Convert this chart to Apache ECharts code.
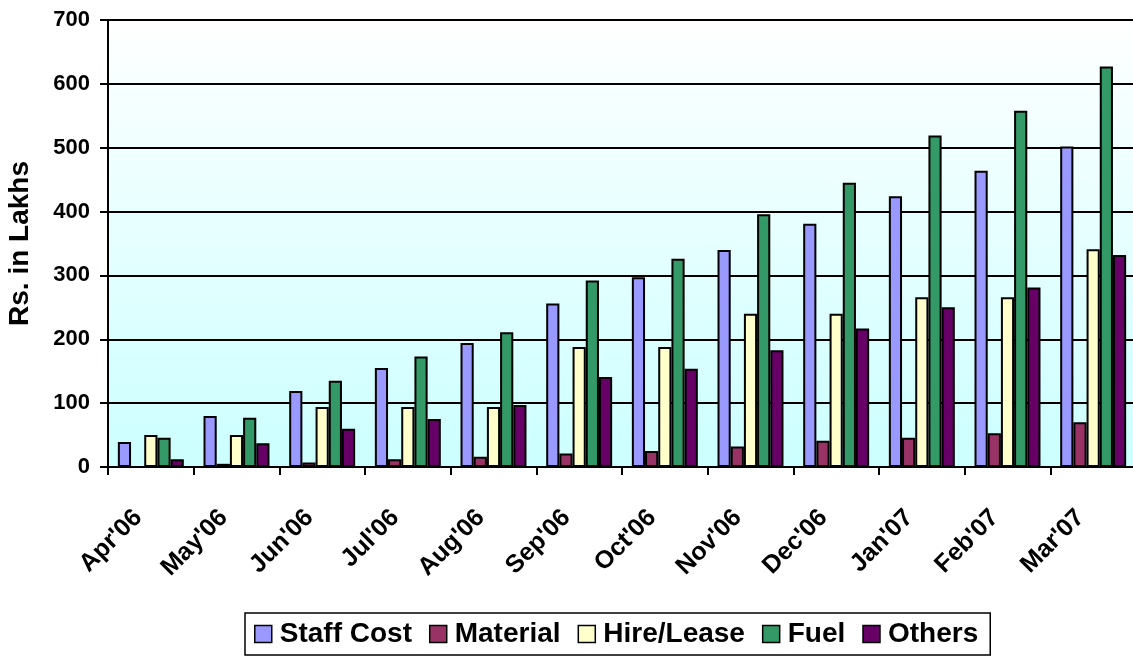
<!DOCTYPE html>
<html>
<head>
<meta charset="utf-8">
<script src="https://cdn.jsdelivr.net/npm/echarts@6/dist/echarts.min.js"></script>
<style>
html,body{margin:0;padding:0;background:#fff;}
#c{width:1133px;height:656px;}
</style>
</head>
<body>
<div id="c"></div>
<script>
const categories = ["Apr'06","May'06","Jun'06","Jul'06","Aug'06","Sep'06","Oct'06","Nov'06","Dec'06","Jan'07","Feb'07","Mar'07"];
const staffCost = [39, 80, 119, 155, 194, 256, 297, 340, 381, 424, 464, 502];
const material  = [0, 5, 7, 12, 16, 21, 25, 32, 41, 46, 53, 70];
const hireLease = [50, 50, 94, 94, 94, 188, 188, 240, 240, 266, 266, 341];
const fuel      = [46, 77, 135, 173, 211, 292, 326, 396, 445, 519, 558, 627];
const others    = [12, 37, 60, 75, 97, 141, 154, 183, 217, 250, 281, 332];
const seriesNames = ["Staff Cost","Material","Hire/Lease","Fuel","Others"];
const seriesColors = ["#9999ff","#993366","#ffffcc","#339966","#660066"];
const seriesData = [staffCost, material, hireLease, fuel, others];

const FONT = "'Liberation Sans', Arial, sans-serif";
const chart = echarts.init(document.getElementById('c'), null, {renderer:'canvas'});
chart.setOption({
  animation: false,
  backgroundColor: '#ffffff',
  grid: {
    left: 108, right: -3, top: 20, bottom: 189,
    outerBoundsMode: 'none',
    containLabel: false,
    show: true,
    borderWidth: 0,
    backgroundColor: new echarts.graphic.LinearGradient(0, 0, 0, 1, [
      {offset: 0, color: '#ffffff'},
      {offset: 1, color: '#ccffff'}
    ])
  },
  legend: {
    data: seriesNames,
    left: 245, top: 613,
    width: 780,
    orient: 'horizontal',
    borderColor: '#000', borderWidth: 1.5,
    padding: [7, 12, 7, 9],
    itemWidth: 17, itemHeight: 17,
    itemGap: 17,
    icon: 'rect',
    itemStyle: {borderColor: '#000', borderWidth: 1.5},
    textStyle: {fontFamily: FONT, fontWeight: 'bold', fontSize: 28, color: '#000', padding: [0,0,0,3]}
  },
  xAxis: {
    type: 'category',
    data: categories,
    axisLine: {lineStyle: {color: '#000', width: 2}},
    axisTick: {show: true, length: 8, lineStyle: {color: '#000', width: 2}},
    axisLabel: {
      rotate: 45, interval: 0, margin: 34,
      fontFamily: FONT, fontWeight: 'bold', fontSize: 25, color: '#000',
      padding: [0, 18, 0, 0]
    }
  },
  yAxis: {
    type: 'value',
    min: 0, max: 700, interval: 100,
    name: 'Rs. in Lakhs',
    nameLocation: 'middle',
    nameGap: 74,
    nameTextStyle: {fontFamily: FONT, fontWeight: 'bold', fontSize: 28, color: '#000'},
    axisLine: {show: true, lineStyle: {color: '#000', width: 2}},
    axisTick: {show: true, length: 8, inside: false, lineStyle: {color: '#000', width: 2}},
    axisLabel: {margin: 18, fontFamily: FONT, fontWeight: 'bold', fontSize: 22, color: '#000'},
    splitLine: {show: true, lineStyle: {color: '#000', width: 2}}
  },
  series: seriesNames.map((n, i) => ({
    name: n,
    type: 'bar',
    data: seriesData[i],
    barGap: '0%',
    barCategoryGap: '23%',
    itemStyle: {color: seriesColors[i], borderColor: '#000', borderWidth: 2}
  }))
});
</script>
</body>
</html>
